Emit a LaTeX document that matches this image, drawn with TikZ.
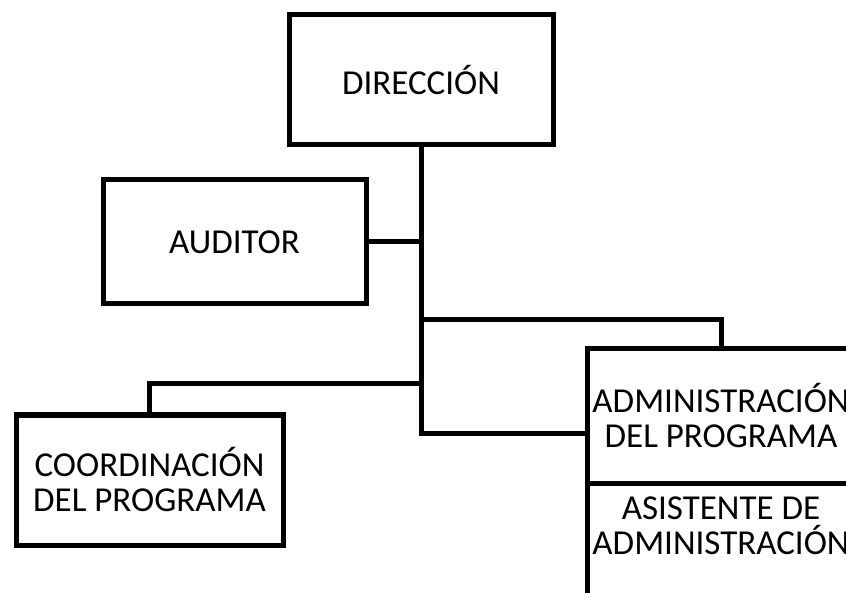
\documentclass[tikz,border=0pt]{standalone}
\usepackage{fontspec}
\setmainfont{Carlito}
\begin{document}
\begin{tikzpicture}[x=1pt,y=-1pt,
  box/.style={draw=black,line width=5pt,fill=white,inner sep=0pt,outer sep=0pt,
    align=center,font=\fontsize{35}{35}\selectfont},
  conn/.style={draw=black,line width=5pt}]
\useasboundingbox (0,0) rectangle (846,593);
\clip (0,0) rectangle (846,593);
% junction points on the trunk and the entry point into the right box
\coordinate (jr) at (422,320);
\coordinate (jl) at (422,384);
\coordinate (ja) at (587,433);
\node[box,minimum width=264pt,minimum height=130pt] (dir) at (421,80) {DIRECCIÓN};
\node[box,minimum width=263pt,minimum height=124pt] (aud) at (234.5,242) {AUDITOR};
\node[box,minimum width=267pt,minimum height=130pt] (coord) at (149.5,480) {COORDINACIÓN\\DEL PROGRAMA};
\node[box,minimum width=268pt,minimum height=134pt] (adm) at (721,416) {ADMINISTRACIÓN\\DEL PROGRAMA};
\node[draw=black,line width=5pt,inner sep=0pt,outer sep=0pt,minimum width=268pt,minimum height=137pt,anchor=north] (asis) at (adm.south) {};
\node[align=center,font=\fontsize{35}{35}\selectfont] (asistxt) at (721,526) {ASISTENTE DE\\ADMINISTRACIÓN};
\draw[conn] (dir.south) |- (ja);
\draw[conn] (aud.east) -- (aud.east -| dir.south);
\draw[conn] (jr) -| (adm.north);
\draw[conn] (jl) -| (coord.north);
\end{tikzpicture}
\end{document}
